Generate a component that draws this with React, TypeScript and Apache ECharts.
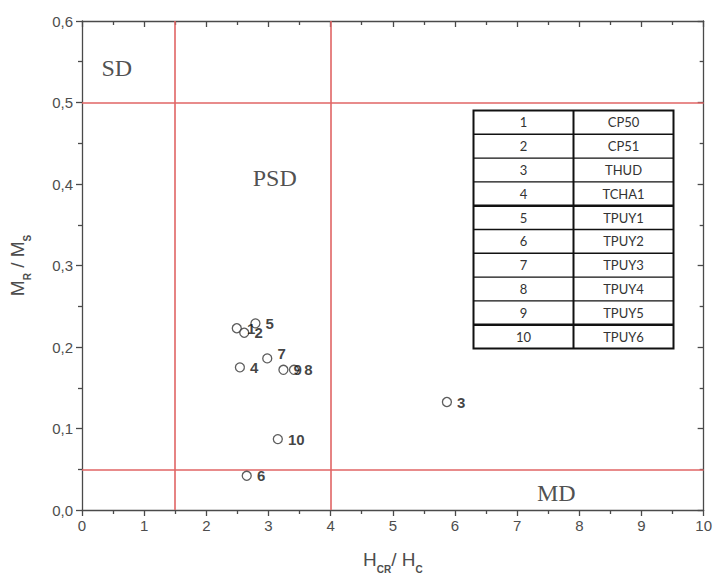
import React, { useEffect, useRef } from "react";
import * as echarts from "echarts";

// Sample identifiers and their hysteresis ratios
const pointIds = ["1", "2", "3", "4", "5", "6", "7", "8", "9", "10"];
const hcrOverHc = [2.49, 2.61, 5.87, 2.54, 2.79, 2.65, 2.98, 3.41, 3.24, 3.15];
const mrOverMs = [0.223, 0.2175, 0.1325, 0.175, 0.229, 0.042, 0.186, 0.172, 0.172, 0.087];

// Domain-state boundaries (Day plot)
const boundaryX = [1.5, 4];
const boundaryY = [0.05, 0.5];

// Domain-state region names and where they sit in data space
const regionNames = ["SD", "PSD", "MD"];
const regionX = [0.56, 3.1, 7.63];
const regionY = [0.542, 0.407, 0.021];

// Legend table: sample number -> site code
const tableIds = ["1", "2", "3", "4", "5", "6", "7", "8", "9", "10"];
const tableCodes = ["CP50", "CP51", "THUD", "TCHA1", "TPUY1", "TPUY2", "TPUY3", "TPUY4", "TPUY5", "TPUY6"];

// Axis ticks
const xTicks = [0, 1, 2, 3, 4, 5, 6, 7, 8, 9, 10];
const yTicks = [0, 0.1, 0.2, 0.3, 0.4, 0.5, 0.6];

const AXIS_COLOR = "#4a4a4a";
const LABEL_COLOR = "#4d4d4d";
const SANS = "Liberation Sans";

function buildTable() {
  const left = 471;
  const top = 108;
  const width = 200;
  const height = 238;
  const colSplit = 100;
  const rowH = height / tableIds.length;
  const children: any[] = [];
  children.push({
    type: "rect",
    shape: { x: 0, y: 0, width, height },
    style: { fill: "#fff", stroke: "#111", lineWidth: 2 },
  });
  children.push({
    type: "line",
    shape: { x1: colSplit, y1: 0, x2: colSplit, y2: height },
    style: { stroke: "#111", lineWidth: 2 },
  });
  for (let i = 1; i < tableIds.length; i++) {
    const thick = i === 4 || i === 9;
    children.push({
      type: "line",
      shape: { x1: 0, y1: i * rowH, x2: width, y2: i * rowH },
      style: { stroke: "#111", lineWidth: thick ? 2.4 : 1.4 },
    });
  }
  tableIds.forEach((id, i) => {
    const cy = i * rowH + rowH / 2;
    children.push({
      type: "text",
      x: colSplit / 2,
      y: cy,
      style: {
        text: id,
        fill: "#333",
        font: "13px Lato, sans-serif",
        align: "center",
        verticalAlign: "middle",
      },
    });
    children.push({
      type: "text",
      x: colSplit + (width - colSplit) / 2,
      y: cy,
      style: {
        text: tableCodes[i],
        fill: "#333",
        font: "13px Lato, sans-serif",
        align: "center",
        verticalAlign: "middle",
      },
    });
  });
  return { type: "group", left, top, children };
}

export default function App() {
  const ref = useRef<HTMLDivElement>(null);

  useEffect(() => {
    if (!ref.current) return;
    const chart = echarts.init(ref.current, null, { renderer: "svg" });

    const axisLine = { show: true, onZero: false, lineStyle: { color: AXIS_COLOR, width: 1.3 } };
    const tickStyle = { color: AXIS_COLOR, width: 1.3 };
    const nameRich = {
      m: { fontSize: 19, color: LABEL_COLOR, fontFamily: SANS, verticalAlign: "bottom", padding: [0, 0, 5, 0] },
      s: { fontSize: 10, color: LABEL_COLOR, fontFamily: SANS, verticalAlign: "bottom", fontWeight: "bold" },
    };

    const option: any = {
      animation: false,
      backgroundColor: "#fff",
      grid: { left: 80, right: 5, top: 21, bottom: 73, containLabel: false },
      xAxis: [
        {
          type: "value",
          position: "bottom",
          min: xTicks[0],
          max: xTicks[xTicks.length - 1],
          interval: 1,
          axisLine,
          axisTick: { show: true, inside: false, length: 6, lineStyle: tickStyle },
          minorTick: { show: true, splitNumber: 2, length: 4, lineStyle: tickStyle },
          splitLine: { show: false },
          axisLabel: { color: LABEL_COLOR, fontSize: 15, fontFamily: SANS, margin: 8 },
          name: "{m|H}{s|CR}{m|/ H}{s|C}",
          nameLocation: "middle",
          nameGap: 40,
          nameTextStyle: { rich: nameRich },
        },
        {
          type: "value",
          position: "top",
          min: xTicks[0],
          max: xTicks[xTicks.length - 1],
          interval: 1,
          axisLine,
          axisTick: { show: true, inside: true, length: 6, lineStyle: tickStyle },
          minorTick: { show: true, splitNumber: 2, length: 4, lineStyle: tickStyle },
          splitLine: { show: false },
          axisLabel: { show: false },
        },
      ],
      yAxis: [
        {
          type: "value",
          position: "left",
          min: yTicks[0],
          max: yTicks[yTicks.length - 1],
          interval: 0.1,
          axisLine,
          axisTick: { show: true, inside: false, length: 6, lineStyle: tickStyle },
          minorTick: { show: true, splitNumber: 2, length: 4, lineStyle: tickStyle },
          splitLine: { show: false },
          axisLabel: {
            color: LABEL_COLOR,
            fontSize: 15,
            fontFamily: SANS,
            margin: 9,
            formatter: (v: number) => v.toFixed(1).replace(".", ","),
          },
          name: "{m|M}{s|R}{m| / M}{s|S}",
          nameLocation: "middle",
          nameGap: 50,
          nameRotate: 90,
          nameTextStyle: { rich: nameRich },
        },
        {
          type: "value",
          position: "right",
          min: yTicks[0],
          max: yTicks[yTicks.length - 1],
          interval: 0.1,
          axisLine,
          axisTick: { show: true, inside: true, length: 6, lineStyle: tickStyle },
          minorTick: { show: true, splitNumber: 2, length: 4, lineStyle: tickStyle },
          splitLine: { show: false },
          axisLabel: { show: false },
        },
      ],
      graphic: [buildTable()],
      series: [
        {
          name: "samples",
          type: "scatter",
          xAxisIndex: 0,
          yAxisIndex: 0,
          symbol: "circle",
          symbolSize: 9,
          z: 5,
          itemStyle: { color: "#fff", borderColor: "#333", borderWidth: 1.3 },
          label: {
            show: true,
            position: "right",
            distance: 5,
            color: "#111",
            fontSize: 15,
            fontWeight: "bold",
            fontFamily: SANS,
            formatter: (p: any) => p.data.value[2],
          },
          data: hcrOverHc.map((x, i) => ({
            value: [x, mrOverMs[i], pointIds[i]],
            label: pointIds[i] === "7" ? { offset: [0, -5] } : undefined,
          })),
          markLine: {
            silent: true,
            symbol: "none",
            label: { show: false },
            lineStyle: { color: "#e06464", width: 1.6, type: "solid" },
            data: [
              ...boundaryX.map((v) => ({ xAxis: v })),
              ...boundaryY.map((v) => ({ yAxis: v })),
            ],
          },
        },
        {
          name: "regions",
          type: "scatter",
          xAxisIndex: 0,
          yAxisIndex: 0,
          symbolSize: 0,
          silent: true,
          label: {
            show: true,
            position: "inside",
            color: "#222",
            fontSize: 24,
            fontFamily: "Liberation Serif",
            formatter: (p: any) => p.data[2],
          },
          data: regionNames.map((n, i) => [regionX[i], regionY[i], n]),
        },
      ],
    };

    chart.setOption(option);
    return () => chart.dispose();
  }, []);

  return <div ref={ref} style={{ position: "absolute", left: 0, top: 0, width: 715, height: 583 }} />;
}
